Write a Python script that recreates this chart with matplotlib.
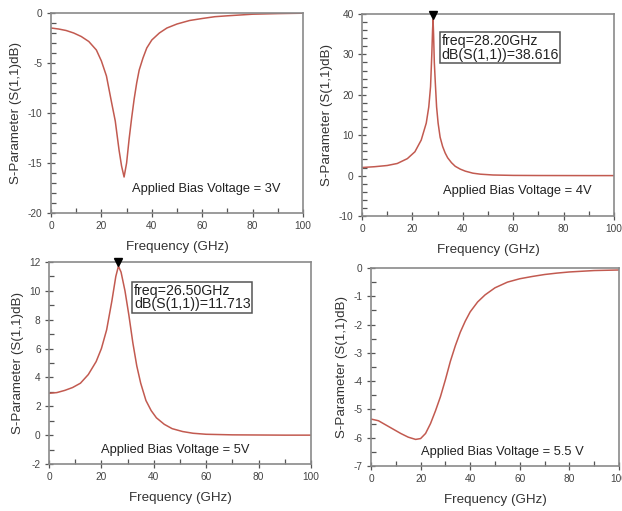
import matplotlib
matplotlib.use("Agg")
import matplotlib.pyplot as plt
import matplotlib.transforms as mtransforms
from matplotlib.ticker import MultipleLocator

plt.rcParams['font.family'] = ['Liberation Sans', 'DejaVu Sans']
plt.rcParams['axes.unicode_minus'] = False

# 3V - dip
freq_3v = [0, 3, 6, 9, 12, 15, 18, 20, 22, 24, 25.5, 27, 28, 29, 30, 31, 32, 33, 34, 35,
           36.5, 38, 40, 43, 46, 50, 55, 60, 65, 70, 80, 90, 100]
s11_3v = [-1.5, -1.6, -1.75, -2.0, -2.35, -2.85, -3.7, -4.8, -6.3, -8.9, -10.8, -13.7, -15.3, -16.4,
          -15.0, -12.6, -10.5, -8.6, -7.0, -5.7, -4.5, -3.5, -2.7, -2.0, -1.5, -1.1, -0.75, -0.55,
          -0.37, -0.28, -0.12, -0.06, -0.02]

# 4V - sharp peak
freq_4v = [0, 5, 10, 14, 18, 21, 23.5, 25.5, 26.5, 27.2, 27.7, 28.0, 28.2, 28.4, 28.7, 29.1, 29.6,
           30.2, 31, 32, 33, 34, 35.5, 37, 39, 41, 44, 47, 52, 60, 70, 80, 90, 100]
s11_4v = [2.0, 2.2, 2.5, 3.0, 4.2, 5.9, 8.8, 13, 17, 22, 30, 36, 38.616, 35, 28, 22.9, 17,
          13, 9.5, 7.2, 5.6, 4.4, 3.2, 2.3, 1.6, 1.1, 0.6, 0.35, 0.15, 0.05, 0.02, 0.01, 0.0, 0.0]

# 5V - broad peak
freq_5v = [0, 3, 6, 9, 12, 15, 18, 20, 22, 24, 25.5, 26.5, 27.5, 29, 30.5, 32, 33.5, 35, 37, 39,
           41, 44, 47, 51, 55, 60, 70, 80, 90, 100]
s11_5v = [2.9, 2.95, 3.1, 3.3, 3.6, 4.2, 5.1, 6.0, 7.3, 9.3, 11.0, 11.713, 11.3, 10.0, 8.3, 6.4,
          4.8, 3.6, 2.4, 1.7, 1.2, 0.75, 0.45, 0.25, 0.13, 0.06, 0.02, 0.01, 0.0, 0.0]

# 5.5V
freq_55v = [0, 3, 6, 9, 12, 15, 18, 20, 22, 24, 26, 28, 30, 32, 34, 36, 38, 40, 43, 46, 50, 55,
            60, 65, 70, 75, 80, 90, 100]
s11_55v = [-5.34, -5.4, -5.55, -5.7, -5.85, -5.98, -6.06, -6.03, -5.85, -5.5, -5.05, -4.55, -3.95,
           -3.3, -2.75, -2.27, -1.88, -1.55, -1.2, -0.95, -0.7, -0.5, -0.38, -0.3, -0.23, -0.18,
           -0.14, -0.09, -0.07]

line_color = '#c25a50'
spine_color = '#8a8a8a'

fig = plt.figure(figsize=(6.22, 5.11), dpi=100)

def setup(ax, ylim, major, minor):
    ax.set_xlim(0, 100)
    ax.set_ylim(*ylim)
    ax.xaxis.set_major_locator(MultipleLocator(20))
    ax.xaxis.set_minor_locator(MultipleLocator(10))
    ax.yaxis.set_major_locator(MultipleLocator(major))
    ax.yaxis.set_minor_locator(MultipleLocator(minor))
    for s in ax.spines.values():
        s.set_color(spine_color)
        s.set_linewidth(1.2)
    ax.tick_params(which='major', direction='inout', length=6, width=0.9, color='#555555',
                   labelsize=7.3, labelcolor='#444444', pad=3)
    ax.tick_params(which='minor', direction='in', length=3.5, width=0.9, color='#555555')
    ax.set_xlabel('Frequency (GHz)', fontsize=9.6, color='#333333', labelpad=7)
    ax.set_ylabel('S-Parameter (S(1,1)dB)', fontsize=9.6, color='#333333', labelpad=4)

def peak_marker(ax, x, y, text, tx, ty):
    tr = mtransforms.offset_copy(ax.transData, fig=fig, x=0, y=3, units='points')
    ax.plot([x], [y], marker='v', color='black', markersize=6, transform=tr, clip_on=False, zorder=5)
    ax.text(tx, ty, text, fontsize=10.2, color='#222222', va='top', ha='left', linespacing=0.95,
            bbox=dict(boxstyle='square,pad=0.12', facecolor='white', edgecolor='#555555', linewidth=1.1))

# top left - 3V
ax1 = fig.add_axes([51/622, 1-213/511, 252/622, 200/511])
ax1.plot(freq_3v, s11_3v, color=line_color, lw=1.1)
setup(ax1, (-20, 0), 5, 1)
ax1.text(32, -17.6, 'Applied Bias Voltage = 3V', fontsize=9.3, color='#222222', va='center')

# top right - 4V
ax2 = fig.add_axes([362/622, 1-216/511, 252/622, 202/511])
ax2.plot(freq_4v, s11_4v, color=line_color, lw=1.1)
setup(ax2, (-10, 40), 10, 2)
peak_marker(ax2, 28.2, 38.616, 'freq=28.20GHz\ndB(S(1,1))=38.616', 31.5, 35)
ax2.text(32, -3.8, 'Applied Bias Voltage = 4V', fontsize=9.3, color='#222222', va='center')

# bottom left - 5V
ax3 = fig.add_axes([49/622, 1-464/511, 262/622, 202/511])
ax3.plot(freq_5v, s11_5v, color=line_color, lw=1.1)
setup(ax3, (-2, 12), 2, 1)
peak_marker(ax3, 26.5, 11.713, 'freq=26.50GHz\ndB(S(1,1))=11.713', 32.5, 10.5)
ax3.text(20, -1.0, 'Applied Bias Voltage = 5V', fontsize=9.3, color='#222222', va='center')

# bottom right - 5.5V
ax4 = fig.add_axes([371/622, 1-466/511, 248/622, 198/511])
ax4.plot(freq_55v, s11_55v, color=line_color, lw=1.1)
setup(ax4, (-7, 0), 1, 0.5)
ax4.text(20, -6.5, 'Applied Bias Voltage = 5.5 V', fontsize=9.3, color='#222222', va='center')

fig.savefig('out.png', dpi=100)
